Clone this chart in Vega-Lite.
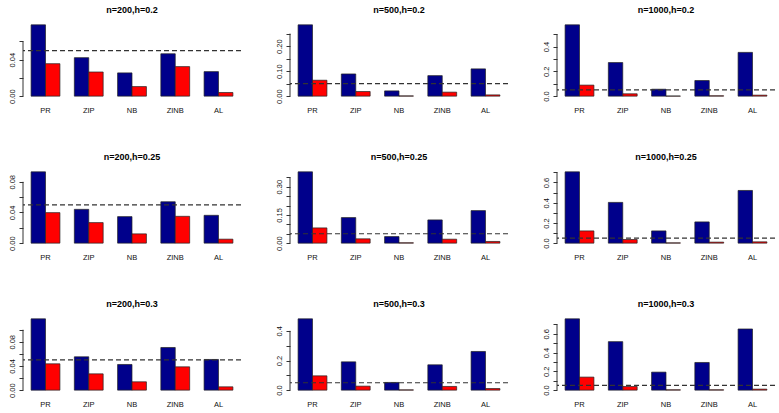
{
  "$schema": "https://vega.github.io/schema/vega-lite/v6.json",
  "padding": {"left": 7, "top": 6, "right": 4, "bottom": 4},
  "config": {
    "view": {"stroke": null},
    "font": "Liberation Sans",
    "title": {"font": "Liberation Sans", "fontSize": 9, "fontWeight": "bold", "offset": 7, "color": "#000"},
    "axis": {"labelFont": "Liberation Sans", "labelFontSize": 7.5, "labelColor": "#111", "tickColor": "#333", "grid": false, "title": null, "labelOverlap": false, "labelBound": false, "labelFlush": false}
  },
  "datasets": {
    "bars": [
      {"panel": "n=200,h=0.2", "method": "PR", "series": "A", "value": 0.0782},
      {"panel": "n=200,h=0.2", "method": "PR", "series": "B", "value": 0.0356},
      {"panel": "n=200,h=0.2", "method": "ZIP", "series": "A", "value": 0.0422},
      {"panel": "n=200,h=0.2", "method": "ZIP", "series": "B", "value": 0.0265},
      {"panel": "n=200,h=0.2", "method": "NB", "series": "A", "value": 0.0255},
      {"panel": "n=200,h=0.2", "method": "NB", "series": "B", "value": 0.0105},
      {"panel": "n=200,h=0.2", "method": "ZINB", "series": "A", "value": 0.0465},
      {"panel": "n=200,h=0.2", "method": "ZINB", "series": "B", "value": 0.0324},
      {"panel": "n=200,h=0.2", "method": "AL", "series": "A", "value": 0.0269},
      {"panel": "n=200,h=0.2", "method": "AL", "series": "B", "value": 0.0040},

      {"panel": "n=500,h=0.2", "method": "PR", "series": "A", "value": 0.285},
      {"panel": "n=500,h=0.2", "method": "PR", "series": "B", "value": 0.0636},
      {"panel": "n=500,h=0.2", "method": "ZIP", "series": "A", "value": 0.0887},
      {"panel": "n=500,h=0.2", "method": "ZIP", "series": "B", "value": 0.0185},
      {"panel": "n=500,h=0.2", "method": "NB", "series": "A", "value": 0.021},
      {"panel": "n=500,h=0.2", "method": "NB", "series": "B", "value": 0.001},
      {"panel": "n=500,h=0.2", "method": "ZINB", "series": "A", "value": 0.082},
      {"panel": "n=500,h=0.2", "method": "ZINB", "series": "B", "value": 0.016},
      {"panel": "n=500,h=0.2", "method": "AL", "series": "A", "value": 0.109},
      {"panel": "n=500,h=0.2", "method": "AL", "series": "B", "value": 0.005},

      {"panel": "n=1000,h=0.2", "method": "PR", "series": "A", "value": 0.575},
      {"panel": "n=1000,h=0.2", "method": "PR", "series": "B", "value": 0.089},
      {"panel": "n=1000,h=0.2", "method": "ZIP", "series": "A", "value": 0.271},
      {"panel": "n=1000,h=0.2", "method": "ZIP", "series": "B", "value": 0.019},
      {"panel": "n=1000,h=0.2", "method": "NB", "series": "A", "value": 0.056},
      {"panel": "n=1000,h=0.2", "method": "NB", "series": "B", "value": 0.001},
      {"panel": "n=1000,h=0.2", "method": "ZINB", "series": "A", "value": 0.126},
      {"panel": "n=1000,h=0.2", "method": "ZINB", "series": "B", "value": 0.003},
      {"panel": "n=1000,h=0.2", "method": "AL", "series": "A", "value": 0.353},
      {"panel": "n=1000,h=0.2", "method": "AL", "series": "B", "value": 0.008},

      {"panel": "n=200,h=0.25", "method": "PR", "series": "A", "value": 0.093},
      {"panel": "n=200,h=0.25", "method": "PR", "series": "B", "value": 0.0398},
      {"panel": "n=200,h=0.25", "method": "ZIP", "series": "A", "value": 0.0441},
      {"panel": "n=200,h=0.25", "method": "ZIP", "series": "B", "value": 0.0268},
      {"panel": "n=200,h=0.25", "method": "NB", "series": "A", "value": 0.0346},
      {"panel": "n=200,h=0.25", "method": "NB", "series": "B", "value": 0.0121},
      {"panel": "n=200,h=0.25", "method": "ZINB", "series": "A", "value": 0.054},
      {"panel": "n=200,h=0.25", "method": "ZINB", "series": "B", "value": 0.035},
      {"panel": "n=200,h=0.25", "method": "AL", "series": "A", "value": 0.0363},
      {"panel": "n=200,h=0.25", "method": "AL", "series": "B", "value": 0.0052},

      {"panel": "n=500,h=0.25", "method": "PR", "series": "A", "value": 0.379},
      {"panel": "n=500,h=0.25", "method": "PR", "series": "B", "value": 0.081},
      {"panel": "n=500,h=0.25", "method": "ZIP", "series": "A", "value": 0.136},
      {"panel": "n=500,h=0.25", "method": "ZIP", "series": "B", "value": 0.023},
      {"panel": "n=500,h=0.25", "method": "NB", "series": "A", "value": 0.035},
      {"panel": "n=500,h=0.25", "method": "NB", "series": "B", "value": 0.002},
      {"panel": "n=500,h=0.25", "method": "ZINB", "series": "A", "value": 0.1235},
      {"panel": "n=500,h=0.25", "method": "ZINB", "series": "B", "value": 0.021},
      {"panel": "n=500,h=0.25", "method": "AL", "series": "A", "value": 0.173},
      {"panel": "n=500,h=0.25", "method": "AL", "series": "B", "value": 0.009},

      {"panel": "n=1000,h=0.25", "method": "PR", "series": "A", "value": 0.705},
      {"panel": "n=1000,h=0.25", "method": "PR", "series": "B", "value": 0.121},
      {"panel": "n=1000,h=0.25", "method": "ZIP", "series": "A", "value": 0.403},
      {"panel": "n=1000,h=0.25", "method": "ZIP", "series": "B", "value": 0.036},
      {"panel": "n=1000,h=0.25", "method": "NB", "series": "A", "value": 0.121},
      {"panel": "n=1000,h=0.25", "method": "NB", "series": "B", "value": 0.003},
      {"panel": "n=1000,h=0.25", "method": "ZINB", "series": "A", "value": 0.21},
      {"panel": "n=1000,h=0.25", "method": "ZINB", "series": "B", "value": 0.01},
      {"panel": "n=1000,h=0.25", "method": "AL", "series": "A", "value": 0.521},
      {"panel": "n=1000,h=0.25", "method": "AL", "series": "B", "value": 0.013},

      {"panel": "n=200,h=0.3", "method": "PR", "series": "A", "value": 0.118},
      {"panel": "n=200,h=0.3", "method": "PR", "series": "B", "value": 0.0436},
      {"panel": "n=200,h=0.3", "method": "ZIP", "series": "A", "value": 0.0552},
      {"panel": "n=200,h=0.3", "method": "ZIP", "series": "B", "value": 0.027},
      {"panel": "n=200,h=0.3", "method": "NB", "series": "A", "value": 0.0425},
      {"panel": "n=200,h=0.3", "method": "NB", "series": "B", "value": 0.0138},
      {"panel": "n=200,h=0.3", "method": "ZINB", "series": "A", "value": 0.0706},
      {"panel": "n=200,h=0.3", "method": "ZINB", "series": "B", "value": 0.0386},
      {"panel": "n=200,h=0.3", "method": "AL", "series": "A", "value": 0.0508},
      {"panel": "n=200,h=0.3", "method": "AL", "series": "B", "value": 0.0055},

      {"panel": "n=500,h=0.3", "method": "PR", "series": "A", "value": 0.481},
      {"panel": "n=500,h=0.3", "method": "PR", "series": "B", "value": 0.0966},
      {"panel": "n=500,h=0.3", "method": "ZIP", "series": "A", "value": 0.191},
      {"panel": "n=500,h=0.3", "method": "ZIP", "series": "B", "value": 0.027},
      {"panel": "n=500,h=0.3", "method": "NB", "series": "A", "value": 0.052},
      {"panel": "n=500,h=0.3", "method": "NB", "series": "B", "value": 0.002},
      {"panel": "n=500,h=0.3", "method": "ZINB", "series": "A", "value": 0.171},
      {"panel": "n=500,h=0.3", "method": "ZINB", "series": "B", "value": 0.025},
      {"panel": "n=500,h=0.3", "method": "AL", "series": "A", "value": 0.261},
      {"panel": "n=500,h=0.3", "method": "AL", "series": "B", "value": 0.011},

      {"panel": "n=1000,h=0.3", "method": "PR", "series": "A", "value": 0.76},
      {"panel": "n=1000,h=0.3", "method": "PR", "series": "B", "value": 0.139},
      {"panel": "n=1000,h=0.3", "method": "ZIP", "series": "A", "value": 0.517},
      {"panel": "n=1000,h=0.3", "method": "ZIP", "series": "B", "value": 0.039},
      {"panel": "n=1000,h=0.3", "method": "NB", "series": "A", "value": 0.192},
      {"panel": "n=1000,h=0.3", "method": "NB", "series": "B", "value": 0.004},
      {"panel": "n=1000,h=0.3", "method": "ZINB", "series": "A", "value": 0.295},
      {"panel": "n=1000,h=0.3", "method": "ZINB", "series": "B", "value": 0.004},
      {"panel": "n=1000,h=0.3", "method": "AL", "series": "A", "value": 0.652},
      {"panel": "n=1000,h=0.3", "method": "AL", "series": "B", "value": 0.011}
    ]
  },
  "columns": 3,
  "spacing": {"row": 70, "column": 49},
  "bounds": "flush",
  "concat": [
    {
      "title": "n=200,h=0.2", "width": 218, "height": 77,
      "resolve": {"axis": {"y": "independent"}},
      "layer": [
        {"data": {"name": "bars"}, "transform": [{"filter": "datum.panel === 'n=200,h=0.2'"}],
         "mark": {"type": "bar", "stroke": "#222", "strokeWidth": 0.7},
         "encoding": {
           "x": {"field": "method", "type": "nominal", "sort": ["PR", "ZIP", "NB", "ZINB", "AL"], "scale": {"paddingInner": 0.3333, "paddingOuter": 0.187}, "axis": {"labelAngle": 0, "domain": false, "ticks": false, "tickSize": 0, "labelPadding": 7, "labelOverlap": false}},
           "xOffset": {"field": "series", "type": "nominal", "scale": {"paddingInner": 0, "paddingOuter": 0}},
           "y": {"field": "value", "type": "quantitative", "scale": {"domain": [-0.00313, 0.08133], "nice": false}, "axis": {"values": [0, 0.02, 0.04, 0.06], "format": ".2f", "labelExpr": "indexof(['0.00','0.04'], datum.label) >= 0 ? datum.label : ''", "labelOverlap": false, "domain": false, "tickSize": 4, "labelAngle": 270, "labelAlign": "center", "labelBaseline": "bottom", "labelPadding": 3}},
           "color": {"field": "series", "type": "nominal", "scale": {"domain": ["A", "B"], "range": ["#00008B", "#FF0000"]}, "legend": null}
         }},
        {"data": {"values": [{}]}, "mark": {"type": "rule", "strokeDash": [5, 3], "strokeWidth": 1.2, "color": "#333"}, "encoding": {"y": {"datum": 0.05, "axis": null}}},
        {"data": {"values": [{}]}, "mark": {"type": "rule", "strokeWidth": 1, "color": "#333"}, "encoding": {"x": {"value": 0}, "y": {"datum": 0, "axis": null}, "y2": {"datum": 0.06}}}
      ]
    },
    {
      "title": "n=500,h=0.2", "width": 218, "height": 77,
      "resolve": {"axis": {"y": "independent"}},
      "layer": [
        {"data": {"name": "bars"}, "transform": [{"filter": "datum.panel === 'n=500,h=0.2'"}],
         "mark": {"type": "bar", "stroke": "#222", "strokeWidth": 0.7},
         "encoding": {
           "x": {"field": "method", "type": "nominal", "sort": ["PR", "ZIP", "NB", "ZINB", "AL"], "scale": {"paddingInner": 0.3333, "paddingOuter": 0.187}, "axis": {"labelAngle": 0, "domain": false, "ticks": false, "tickSize": 0, "labelPadding": 7, "labelOverlap": false}},
           "xOffset": {"field": "series", "type": "nominal", "scale": {"paddingInner": 0, "paddingOuter": 0}},
           "y": {"field": "value", "type": "quantitative", "scale": {"domain": [-0.0114, 0.2964], "nice": false}, "axis": {"values": [0, 0.05, 0.1, 0.15, 0.2, 0.25], "format": ".2f", "labelExpr": "indexof(['0.00','0.10','0.20'], datum.label) >= 0 ? datum.label : ''", "labelOverlap": false, "domain": false, "tickSize": 4, "labelAngle": 270, "labelAlign": "center", "labelBaseline": "bottom", "labelPadding": 3}},
           "color": {"field": "series", "type": "nominal", "scale": {"domain": ["A", "B"], "range": ["#00008B", "#FF0000"]}, "legend": null}
         }},
        {"data": {"values": [{}]}, "mark": {"type": "rule", "strokeDash": [5, 3], "strokeWidth": 1.2, "color": "#333"}, "encoding": {"y": {"datum": 0.05, "axis": null}}},
        {"data": {"values": [{}]}, "mark": {"type": "rule", "strokeWidth": 1, "color": "#333"}, "encoding": {"x": {"value": 0}, "y": {"datum": 0, "axis": null}, "y2": {"datum": 0.25}}}
      ]
    },
    {
      "title": "n=1000,h=0.2", "width": 218, "height": 77,
      "resolve": {"axis": {"y": "independent"}},
      "layer": [
        {"data": {"name": "bars"}, "transform": [{"filter": "datum.panel === 'n=1000,h=0.2'"}],
         "mark": {"type": "bar", "stroke": "#222", "strokeWidth": 0.7},
         "encoding": {
           "x": {"field": "method", "type": "nominal", "sort": ["PR", "ZIP", "NB", "ZINB", "AL"], "scale": {"paddingInner": 0.3333, "paddingOuter": 0.187}, "axis": {"labelAngle": 0, "domain": false, "ticks": false, "tickSize": 0, "labelPadding": 7, "labelOverlap": false}},
           "xOffset": {"field": "series", "type": "nominal", "scale": {"paddingInner": 0, "paddingOuter": 0}},
           "y": {"field": "value", "type": "quantitative", "scale": {"domain": [-0.023, 0.598], "nice": false}, "axis": {"values": [0, 0.1, 0.2, 0.3, 0.4, 0.5], "format": ".1f", "labelExpr": "indexof(['0.0','0.2','0.4'], datum.label) >= 0 ? datum.label : ''", "labelOverlap": false, "domain": false, "tickSize": 4, "labelAngle": 270, "labelAlign": "center", "labelBaseline": "bottom", "labelPadding": 3}},
           "color": {"field": "series", "type": "nominal", "scale": {"domain": ["A", "B"], "range": ["#00008B", "#FF0000"]}, "legend": null}
         }},
        {"data": {"values": [{}]}, "mark": {"type": "rule", "strokeDash": [5, 3], "strokeWidth": 1.2, "color": "#333"}, "encoding": {"y": {"datum": 0.05, "axis": null}}},
        {"data": {"values": [{}]}, "mark": {"type": "rule", "strokeWidth": 1, "color": "#333"}, "encoding": {"x": {"value": 0}, "y": {"datum": 0, "axis": null}, "y2": {"datum": 0.5}}}
      ]
    },
    {
      "title": "n=200,h=0.25", "width": 218, "height": 77,
      "resolve": {"axis": {"y": "independent"}},
      "layer": [
        {"data": {"name": "bars"}, "transform": [{"filter": "datum.panel === 'n=200,h=0.25'"}],
         "mark": {"type": "bar", "stroke": "#222", "strokeWidth": 0.7},
         "encoding": {
           "x": {"field": "method", "type": "nominal", "sort": ["PR", "ZIP", "NB", "ZINB", "AL"], "scale": {"paddingInner": 0.3333, "paddingOuter": 0.187}, "axis": {"labelAngle": 0, "domain": false, "ticks": false, "tickSize": 0, "labelPadding": 7, "labelOverlap": false}},
           "xOffset": {"field": "series", "type": "nominal", "scale": {"paddingInner": 0, "paddingOuter": 0}},
           "y": {"field": "value", "type": "quantitative", "scale": {"domain": [-0.00372, 0.09672], "nice": false}, "axis": {"values": [0, 0.02, 0.04, 0.06, 0.08], "format": ".2f", "labelExpr": "indexof(['0.00','0.04','0.08'], datum.label) >= 0 ? datum.label : ''", "labelOverlap": false, "domain": false, "tickSize": 4, "labelAngle": 270, "labelAlign": "center", "labelBaseline": "bottom", "labelPadding": 3}},
           "color": {"field": "series", "type": "nominal", "scale": {"domain": ["A", "B"], "range": ["#00008B", "#FF0000"]}, "legend": null}
         }},
        {"data": {"values": [{}]}, "mark": {"type": "rule", "strokeDash": [5, 3], "strokeWidth": 1.2, "color": "#333"}, "encoding": {"y": {"datum": 0.05, "axis": null}}},
        {"data": {"values": [{}]}, "mark": {"type": "rule", "strokeWidth": 1, "color": "#333"}, "encoding": {"x": {"value": 0}, "y": {"datum": 0, "axis": null}, "y2": {"datum": 0.08}}}
      ]
    },
    {
      "title": "n=500,h=0.25", "width": 218, "height": 77,
      "resolve": {"axis": {"y": "independent"}},
      "layer": [
        {"data": {"name": "bars"}, "transform": [{"filter": "datum.panel === 'n=500,h=0.25'"}],
         "mark": {"type": "bar", "stroke": "#222", "strokeWidth": 0.7},
         "encoding": {
           "x": {"field": "method", "type": "nominal", "sort": ["PR", "ZIP", "NB", "ZINB", "AL"], "scale": {"paddingInner": 0.3333, "paddingOuter": 0.187}, "axis": {"labelAngle": 0, "domain": false, "ticks": false, "tickSize": 0, "labelPadding": 7, "labelOverlap": false}},
           "xOffset": {"field": "series", "type": "nominal", "scale": {"paddingInner": 0, "paddingOuter": 0}},
           "y": {"field": "value", "type": "quantitative", "scale": {"domain": [-0.01516, 0.39416], "nice": false}, "axis": {"values": [0, 0.05, 0.1, 0.15, 0.2, 0.25, 0.3, 0.35], "format": ".2f", "labelExpr": "indexof(['0.00','0.15','0.30'], datum.label) >= 0 ? datum.label : ''", "labelOverlap": false, "domain": false, "tickSize": 4, "labelAngle": 270, "labelAlign": "center", "labelBaseline": "bottom", "labelPadding": 3}},
           "color": {"field": "series", "type": "nominal", "scale": {"domain": ["A", "B"], "range": ["#00008B", "#FF0000"]}, "legend": null}
         }},
        {"data": {"values": [{}]}, "mark": {"type": "rule", "strokeDash": [5, 3], "strokeWidth": 1.2, "color": "#333"}, "encoding": {"y": {"datum": 0.05, "axis": null}}},
        {"data": {"values": [{}]}, "mark": {"type": "rule", "strokeWidth": 1, "color": "#333"}, "encoding": {"x": {"value": 0}, "y": {"datum": 0, "axis": null}, "y2": {"datum": 0.35}}}
      ]
    },
    {
      "title": "n=1000,h=0.25", "width": 218, "height": 77,
      "resolve": {"axis": {"y": "independent"}},
      "layer": [
        {"data": {"name": "bars"}, "transform": [{"filter": "datum.panel === 'n=1000,h=0.25'"}],
         "mark": {"type": "bar", "stroke": "#222", "strokeWidth": 0.7},
         "encoding": {
           "x": {"field": "method", "type": "nominal", "sort": ["PR", "ZIP", "NB", "ZINB", "AL"], "scale": {"paddingInner": 0.3333, "paddingOuter": 0.187}, "axis": {"labelAngle": 0, "domain": false, "ticks": false, "tickSize": 0, "labelPadding": 7, "labelOverlap": false}},
           "xOffset": {"field": "series", "type": "nominal", "scale": {"paddingInner": 0, "paddingOuter": 0}},
           "y": {"field": "value", "type": "quantitative", "scale": {"domain": [-0.0282, 0.7332], "nice": false}, "axis": {"values": [0, 0.1, 0.2, 0.3, 0.4, 0.5, 0.6, 0.7], "format": ".1f", "labelExpr": "indexof(['0.0','0.2','0.4','0.6'], datum.label) >= 0 ? datum.label : ''", "labelOverlap": false, "domain": false, "tickSize": 4, "labelAngle": 270, "labelAlign": "center", "labelBaseline": "bottom", "labelPadding": 3}},
           "color": {"field": "series", "type": "nominal", "scale": {"domain": ["A", "B"], "range": ["#00008B", "#FF0000"]}, "legend": null}
         }},
        {"data": {"values": [{}]}, "mark": {"type": "rule", "strokeDash": [5, 3], "strokeWidth": 1.2, "color": "#333"}, "encoding": {"y": {"datum": 0.05, "axis": null}}},
        {"data": {"values": [{}]}, "mark": {"type": "rule", "strokeWidth": 1, "color": "#333"}, "encoding": {"x": {"value": 0}, "y": {"datum": 0, "axis": null}, "y2": {"datum": 0.7}}}
      ]
    },
    {
      "title": "n=200,h=0.3", "width": 218, "height": 77,
      "resolve": {"axis": {"y": "independent"}},
      "layer": [
        {"data": {"name": "bars"}, "transform": [{"filter": "datum.panel === 'n=200,h=0.3'"}],
         "mark": {"type": "bar", "stroke": "#222", "strokeWidth": 0.7},
         "encoding": {
           "x": {"field": "method", "type": "nominal", "sort": ["PR", "ZIP", "NB", "ZINB", "AL"], "scale": {"paddingInner": 0.3333, "paddingOuter": 0.187}, "axis": {"labelAngle": 0, "domain": false, "ticks": false, "tickSize": 0, "labelPadding": 7, "labelOverlap": false}},
           "xOffset": {"field": "series", "type": "nominal", "scale": {"paddingInner": 0, "paddingOuter": 0}},
           "y": {"field": "value", "type": "quantitative", "scale": {"domain": [-0.00472, 0.12272], "nice": false}, "axis": {"values": [0, 0.02, 0.04, 0.06, 0.08, 0.1], "format": ".2f", "labelExpr": "indexof(['0.00','0.04','0.08'], datum.label) >= 0 ? datum.label : ''", "labelOverlap": false, "domain": false, "tickSize": 4, "labelAngle": 270, "labelAlign": "center", "labelBaseline": "bottom", "labelPadding": 3}},
           "color": {"field": "series", "type": "nominal", "scale": {"domain": ["A", "B"], "range": ["#00008B", "#FF0000"]}, "legend": null}
         }},
        {"data": {"values": [{}]}, "mark": {"type": "rule", "strokeDash": [5, 3], "strokeWidth": 1.2, "color": "#333"}, "encoding": {"y": {"datum": 0.05, "axis": null}}},
        {"data": {"values": [{}]}, "mark": {"type": "rule", "strokeWidth": 1, "color": "#333"}, "encoding": {"x": {"value": 0}, "y": {"datum": 0, "axis": null}, "y2": {"datum": 0.1}}}
      ]
    },
    {
      "title": "n=500,h=0.3", "width": 218, "height": 77,
      "resolve": {"axis": {"y": "independent"}},
      "layer": [
        {"data": {"name": "bars"}, "transform": [{"filter": "datum.panel === 'n=500,h=0.3'"}],
         "mark": {"type": "bar", "stroke": "#222", "strokeWidth": 0.7},
         "encoding": {
           "x": {"field": "method", "type": "nominal", "sort": ["PR", "ZIP", "NB", "ZINB", "AL"], "scale": {"paddingInner": 0.3333, "paddingOuter": 0.187}, "axis": {"labelAngle": 0, "domain": false, "ticks": false, "tickSize": 0, "labelPadding": 7, "labelOverlap": false}},
           "xOffset": {"field": "series", "type": "nominal", "scale": {"paddingInner": 0, "paddingOuter": 0}},
           "y": {"field": "value", "type": "quantitative", "scale": {"domain": [-0.01924, 0.50024], "nice": false}, "axis": {"values": [0, 0.1, 0.2, 0.3, 0.4], "format": ".1f", "labelExpr": "indexof(['0.0','0.2','0.4'], datum.label) >= 0 ? datum.label : ''", "labelOverlap": false, "domain": false, "tickSize": 4, "labelAngle": 270, "labelAlign": "center", "labelBaseline": "bottom", "labelPadding": 3}},
           "color": {"field": "series", "type": "nominal", "scale": {"domain": ["A", "B"], "range": ["#00008B", "#FF0000"]}, "legend": null}
         }},
        {"data": {"values": [{}]}, "mark": {"type": "rule", "strokeDash": [5, 3], "strokeWidth": 1.2, "color": "#333"}, "encoding": {"y": {"datum": 0.05, "axis": null}}},
        {"data": {"values": [{}]}, "mark": {"type": "rule", "strokeWidth": 1, "color": "#333"}, "encoding": {"x": {"value": 0}, "y": {"datum": 0, "axis": null}, "y2": {"datum": 0.4}}}
      ]
    },
    {
      "title": "n=1000,h=0.3", "width": 218, "height": 77,
      "resolve": {"axis": {"y": "independent"}},
      "layer": [
        {"data": {"name": "bars"}, "transform": [{"filter": "datum.panel === 'n=1000,h=0.3'"}],
         "mark": {"type": "bar", "stroke": "#222", "strokeWidth": 0.7},
         "encoding": {
           "x": {"field": "method", "type": "nominal", "sort": ["PR", "ZIP", "NB", "ZINB", "AL"], "scale": {"paddingInner": 0.3333, "paddingOuter": 0.187}, "axis": {"labelAngle": 0, "domain": false, "ticks": false, "tickSize": 0, "labelPadding": 7, "labelOverlap": false}},
           "xOffset": {"field": "series", "type": "nominal", "scale": {"paddingInner": 0, "paddingOuter": 0}},
           "y": {"field": "value", "type": "quantitative", "scale": {"domain": [-0.0304, 0.7904], "nice": false}, "axis": {"values": [0, 0.1, 0.2, 0.3, 0.4, 0.5, 0.6, 0.7], "format": ".1f", "labelExpr": "indexof(['0.0','0.2','0.4','0.6'], datum.label) >= 0 ? datum.label : ''", "labelOverlap": false, "domain": false, "tickSize": 4, "labelAngle": 270, "labelAlign": "center", "labelBaseline": "bottom", "labelPadding": 3}},
           "color": {"field": "series", "type": "nominal", "scale": {"domain": ["A", "B"], "range": ["#00008B", "#FF0000"]}, "legend": null}
         }},
        {"data": {"values": [{}]}, "mark": {"type": "rule", "strokeDash": [5, 3], "strokeWidth": 1.2, "color": "#333"}, "encoding": {"y": {"datum": 0.05, "axis": null}}},
        {"data": {"values": [{}]}, "mark": {"type": "rule", "strokeWidth": 1, "color": "#333"}, "encoding": {"x": {"value": 0}, "y": {"datum": 0, "axis": null}, "y2": {"datum": 0.7}}}
      ]
    }
  ]
}
